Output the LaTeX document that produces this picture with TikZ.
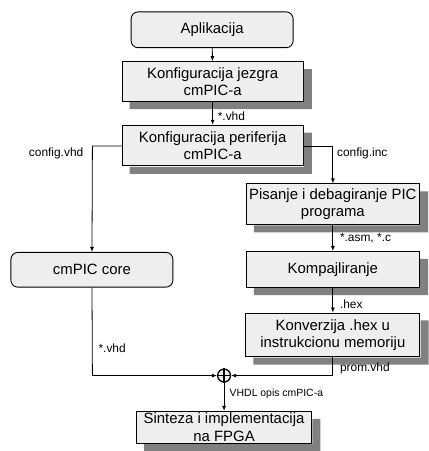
\documentclass[tikz,border=0pt]{standalone}
\usepackage{fontspec}
\setmainfont{Liberation Sans}
\usetikzlibrary{arrows.meta,calc}
\definecolor{boxfill}{RGB}{238,238,238}
\definecolor{shdcol}{RGB}{128,128,128}
\begin{document}
\begin{tikzpicture}[x=1pt,y=-1pt,
  base/.style={draw=black,line width=0.9pt,fill=boxfill,inner sep=0pt,align=center,
    font=\fontsize{15}{17.5}\selectfont},
  sbox/.style={base},
  rbox/.style={base,rounded corners=7pt},
  arr/.style={line width=0.8pt,-{Latex[length=5pt,width=4pt]}},
  ln/.style={line width=0.8pt},
  lbl/.style={font=\fontsize{12}{14}\selectfont,inner sep=0pt},
  slbl/.style={font=\fontsize{10.5}{12}\selectfont,inner sep=0pt}]
\fill[white] (0,0) rectangle (430,451);
% boxes
\node[rbox,minimum width=163pt,minimum height=36pt] (apl) at (213.5,30) {Aplikacija};
\node[sbox,minimum width=182pt,minimum height=40pt] (kj) at (214,82) {Konfiguracija jezgra\\cmPIC-a};
\node[sbox,minimum width=182pt,minimum height=41pt] (kp) at (214,146.5) {Konfiguracija periferija\\cmPIC-a};
\node[sbox,minimum width=174pt,minimum height=41pt] (pis) at (335,205.5) {Pisanje i debagiranje PIC\\programa};
\node[sbox,minimum width=174pt,minimum height=36pt] (komp) at (335,271) {Kompajliranje};
\node[rbox,minimum width=163pt,minimum height=35pt] (core) at (92.5,271.5) {cmPIC core};
\node[sbox,minimum width=175pt,minimum height=44pt] (konv) at (335,337) {Konverzija .hex u\\instrukcionu memoriju};
\node[sbox,minimum width=176pt,minimum height=32pt] (sin) at (225.5,430) {Sinteza i implementacija\\na FPGA};
% shadows as L-shapes drawn beside the boxes
\foreach \n in {kj,kp,pis,komp,konv,sin}{
  \fill[shdcol] ($(\n.north east)+(0.45,8)$) -- ++(8,0) |- ($(\n.south west)+(8,7.45)$) -- ++(0,-7) -| cycle;
}
\node[circle,draw=black,line width=1.3pt,fill=boxfill,minimum size=13pt,inner sep=0pt] (sum) at (225.5,378) {};
\draw[line width=1.3pt] (sum.north) -- (sum.south) (sum.west) -- (sum.east);

\coordinate (cl) at (93,147);
\coordinate (cr) at (335,147);
\coordinate (bl) at (93,378);
\coordinate (br) at (335,378);

\draw[arr] (apl) -- (kj);
\draw[arr] (kj) -- (kp);
\draw[arr] (kp.west |- cl) -- (cl) -- (core);
\draw[arr] (kp.east |- cr) -- (cr) -- (pis);
\draw[arr] (pis) -- (komp);
\draw[arr] (komp) -- (konv);
\draw[ln] (core) -- (bl);
\draw[arr] (bl) -- (sum);
\draw[ln] (konv) -- (br);
\draw[arr] (br) -- (sum);
\draw[arr] (sum) -- (sin);

\node[lbl,anchor=west] (l1) at (219,117) {*.vhd};
\node[lbl,anchor=east] (l2) at (84,154) {config.vhd};
\node[lbl,anchor=west] (l3) at (339,154) {config.inc};
\node[lbl,anchor=west] (l4) at (342,240) {*.asm, *.c};
\node[lbl,anchor=west] (l5) at (342,306) {.hex};
\node[lbl,anchor=west] (l6) at (99,350) {*.vhd};
\node[lbl,anchor=west] (l7) at (342,371) {prom.vhd};
\node[slbl,anchor=west] (l8) at (231,396) {VHDL opis cmPIC-a};
\end{tikzpicture}
\end{document}
